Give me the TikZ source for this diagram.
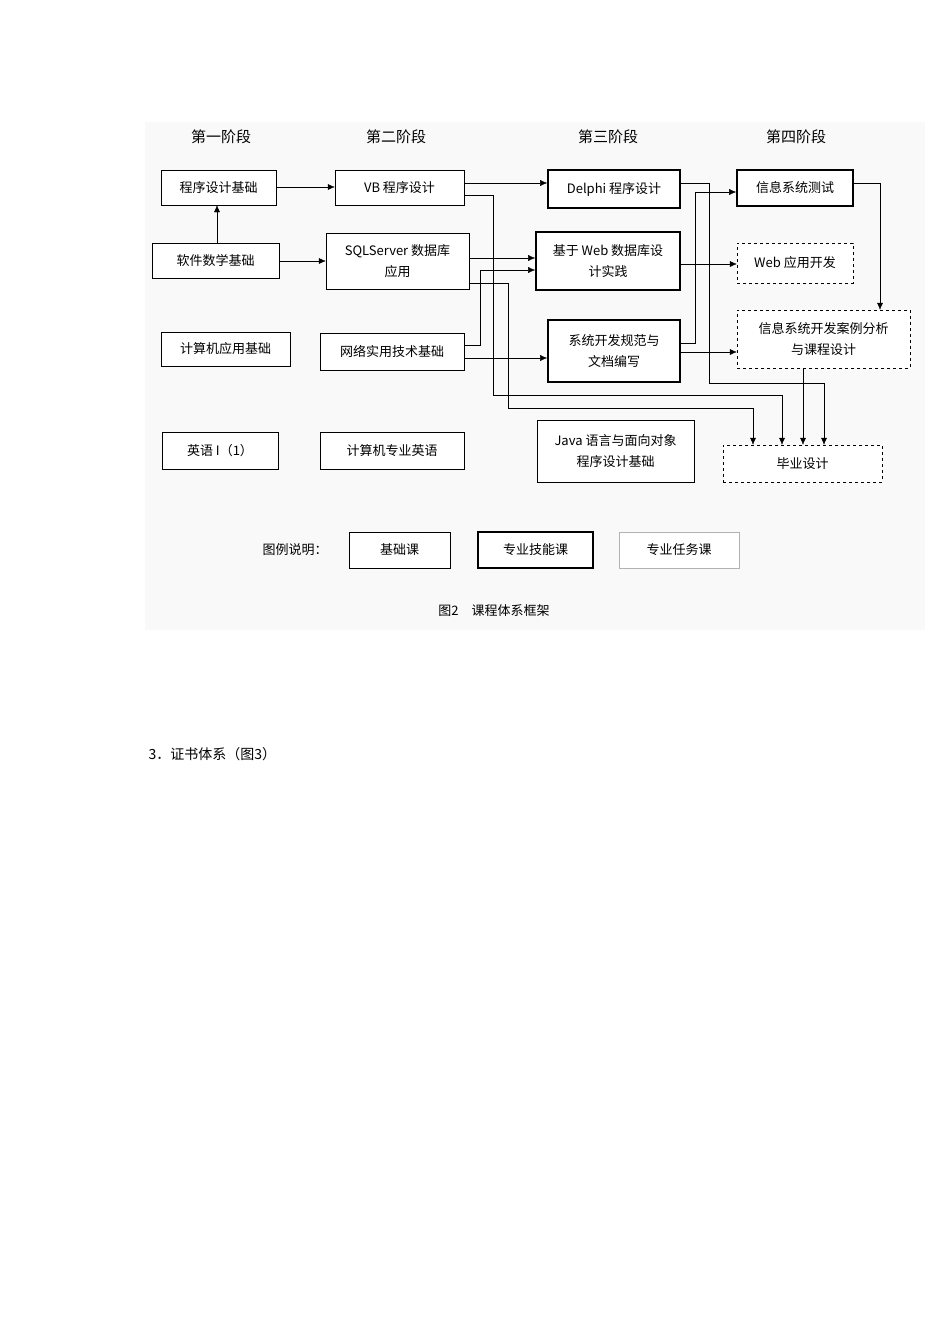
\documentclass[tikz,border=0pt]{standalone}
\usepackage{fontspec}
\setmainfont{Noto Sans CJK SC}
\usetikzlibrary{arrows.meta}
\begin{document}
\begin{tikzpicture}[x=1pt,y=-1pt,
  bx/.style={draw,thin,fill=white,inner sep=0pt,align=center,font=\fontsize{13}{21}\selectfont},
  th/.style={bx,line width=1.6pt},
  ds/.style={bx,dashed},
  ar/.style={-{Latex[length=7pt,width=6pt]},thin},
  ln/.style={thin}]
\useasboundingbox (0,0) rectangle (950,1344);
\fill[gray!5] (145,122) rectangle (925,630);
\tikzset{box/.code args={#1/#2/#3/#4}{}}
\newcommand\bxat[6]{\node[#1,minimum width=#4pt-#2pt,minimum height=#5pt-#3pt] (#6) at ({(#2+#4)/2},{(#3+#5)/2})}
% headers
\foreach \x/\t/\n in {221/第一阶段/h1,396/第二阶段/h2,608/第三阶段/h3,796/第四阶段/h4}
  \node[font=\fontsize{15}{18}\selectfont] (\n) at (\x,137) {\t};
\bxat{bx}{161}{170}{276}{205}{a1} {程序设计基础};
\bxat{bx}{335}{170}{464}{205}{b1} {VB 程序设计};
\bxat{th}{548}{170}{680}{208}{c1} {Delphi 程序设计};
\bxat{th}{737}{170}{853}{206}{d1} {信息系统测试};
\bxat{bx}{152}{243}{279}{278}{a2} {软件数学基础};
\bxat{bx}{326}{233}{469}{289}{b2} {SQLServer 数据库\\应用};
\bxat{th}{536}{232}{680}{290}{c2} {基于 Web 数据库设\\计实践};
\bxat{ds}{737}{243}{853}{283}{d2} {Web 应用开发};
\bxat{bx}{161}{332}{290}{366}{a3} {计算机应用基础};
\bxat{bx}{320}{333}{464}{370}{b3} {网络实用技术基础};
\bxat{th}{548}{320}{680}{382}{c3} {系统开发规范与\\文档编写};
\bxat{ds}{737}{310}{910}{368}{d3} {信息系统开发案例分析\\与课程设计};
\bxat{bx}{162}{432}{278}{469}{a4} {英语 I（1）};
\bxat{bx}{320}{432}{464}{469}{b4} {计算机专业英语};
\bxat{bx}{537}{420}{694}{482}{c4} {Java 语言与面向对象\\程序设计基础};
\bxat{ds}{723}{445}{882}{482}{d4} {毕业设计};
% legend
\node[font=\fontsize{13}{16}\selectfont] (lg) at (295,550) {图例说明：};
\bxat{bx}{349}{532}{450}{568}{l1} {基础课};
\bxat{th}{478}{532}{593}{568}{l2} {专业技能课};
\bxat{bx,draw=gray!60}{619}{532}{739}{568}{l3} {专业任务课};
\node[font=\fontsize{13}{16}\selectfont] (cap) at (494,611) {图2\quad 课程体系框架};
\node[anchor=west,font=\fontsize{14}{16}\selectfont] (sec) at (145,754) {3．证书体系（图3）};
% connectors
\draw[ar] (a1.east|-0,187) -- (b1.west|-0,187);
\draw[ar] (a2.north-|217,0) -- (a1.south-|217,0);
\draw[ar] (a2.east|-0,261) -- (b2.west|-0,261);
\draw[ar] (b1.east|-0,183) -- (c1.west|-0,183);
\draw[ar] (b1.east|-0,195) -| (493,395) -| (d4.north-|782,0);
\draw[ar] (b2.east|-0,258) -- (c2.west|-0,258);
\draw[ar] (b3.east|-0,345) -| (480,270) -- (c2.west|-0,270);
\draw[ar] (b2.east|-0,283) -| (508,408) -| (d4.north-|753,0);
\draw[ar] (b3.east|-0,358) -- (c3.west|-0,358);
\draw[ar] (c1.east|-0,183) -| (709,383) -| (d4.north-|824,0);
\draw[ar] (c3.east|-0,343) -| (695,192) -- (d1.west|-0,192);
\draw[ar] (c2.east|-0,264) -- (d2.west|-0,264);
\draw[ar] (c3.east|-0,352) -- (d3.west|-0,352);
\draw[ar] (d1.east|-0,183) -| (d3.north-|880,0);
\draw[ar] (d3.south-|803,0) -- (d4.north-|803,0);
\end{tikzpicture}
\end{document}
